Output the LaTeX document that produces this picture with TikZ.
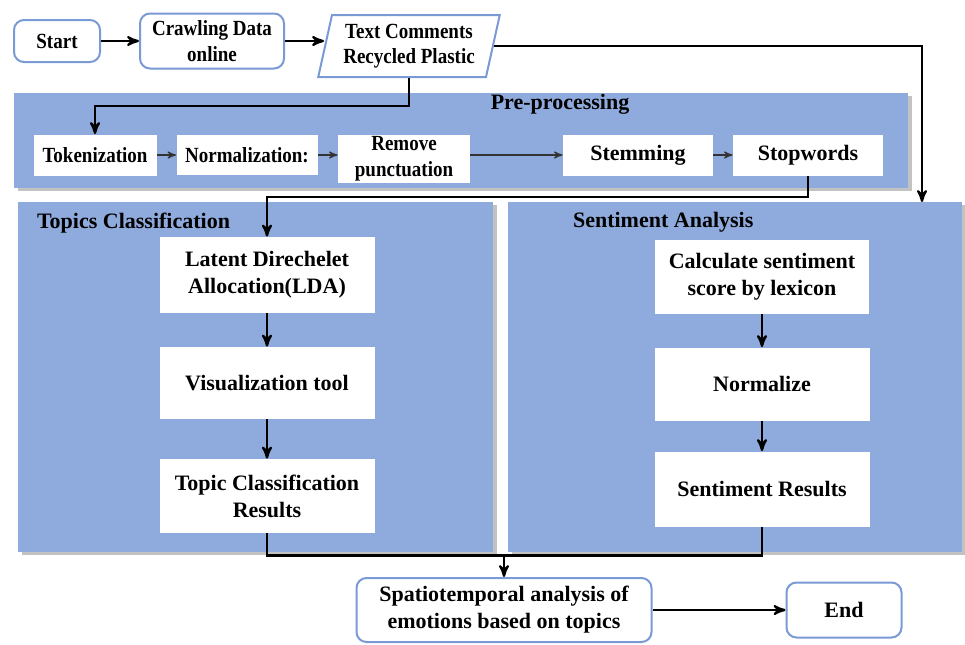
\documentclass[tikz,border=0pt]{standalone}
\usepackage{fontspec}
\setmainfont{Liberation Serif}
\newfontfamily\narrowserif[FakeStretch=0.88]{Liberation Serif}
\usetikzlibrary{arrows,positioning,shapes.geometric,shadows}
\definecolor{panelblue}{RGB}{143,170,220}
\definecolor{edgeblue}{RGB}{122,154,214}
\tikzset{
>=stealth',
  boxfont/.style={font=\bfseries\fontsize{11}{13.5}\selectfont},
  smallfont/.style={font=\narrowserif\bfseries\fontsize{10.8}{12.8}\selectfont},
  endbox/.style={
    rectangle,
    rounded corners=5pt,
    fill=white,
    draw=edgeblue, line width=1pt,
    align=center, inner sep=1pt,
    boxfont},
  iobox/.style={
    trapezium,
    trapezium left angle=76,
    trapezium right angle=104,
    trapezium stretches=true,
    fill=white,
    draw=edgeblue, line width=1pt,
    align=center, inner sep=1pt,
    smallfont},
  panel/.style={
    rectangle, inner sep=0pt,
    fill=panelblue,
    drop shadow={shadow xshift=2pt, shadow yshift=-1.5pt, fill=black!40, opacity=.6}},
  stepbox/.style={
    rectangle,
    fill=white,
    align=center, inner sep=1pt,
    boxfont},
  paneltitle/.style={boxfont},
  line/.style={draw, line width=1.1pt, ->},
  link/.style={draw, line width=1.1pt},
  thinline/.style={draw, line width=0.6pt, ->, black!80},
}

\begin{document}
\begin{tikzpicture}[x=0.5pt,y=-0.5pt]

    \useasboundingbox (0,0) rectangle (965,644);

    % background panels
    \node[panel, minimum width=447pt, minimum height=47.5pt] (pre) at (461,140) {};
    \node[panel, minimum width=237.5pt, minimum height=175pt] (topics) at (255.5,377) {};
    \node[panel, minimum width=227pt, minimum height=175pt] (senti) at (735,377) {};

    \node[paneltitle] (pretitle) at (560,104) {Pre-processing};
    \node[paneltitle, anchor=west] (topictitle) at (30,223) {Topics Classification};
    \node[paneltitle, anchor=west] (sentititle) at (566,222) {Sentiment Analysis};

    % top row
    \node[endbox, smallfont, minimum width=43pt, minimum height=21pt] (start) at (57,41) {Start};
    \node[endbox, smallfont, minimum width=72pt, minimum height=27.5pt] (crawl) at (212,41) {Crawling Data\\online};
    \node[iobox, minimum width=91pt, minimum height=31pt] (text) at (409,46) {Text Comments\\Recycled Plastic};

    % pre-processing steps
    \node[stepbox, smallfont, minimum width=61.5pt, minimum height=20.5pt] (token) at (95,155) {Tokenization};
    \node[stepbox, smallfont, minimum width=70.5pt, minimum height=20pt] (norm) at (247,155) {Normalization:};
    \node[stepbox, smallfont, minimum width=66pt, minimum height=23.5pt] (punct) at (404,159) {Remove\\punctuation};
    \node[stepbox, minimum width=75pt, minimum height=20.5pt] (stem) at (638,155) {Stemming};
    \node[stepbox, minimum width=75pt, minimum height=20.5pt] (stop) at (808,155) {Stopwords};

    % topics classification
    \node[stepbox, minimum width=107.5pt, minimum height=38pt] (lda) at (267,275) {Latent Direchelet\\Allocation(LDA)};
    \node[stepbox, minimum width=107.5pt, minimum height=36pt] (vis) at (267,383) {Visualization tool};
    \node[stepbox, minimum width=107.5pt, minimum height=37pt] (topres) at (267,496) {Topic Classification\\Results};

    % sentiment analysis
    \node[stepbox, minimum width=107pt, minimum height=37pt] (calc) at (762,277) {Calculate sentiment\\score by lexicon};
    \node[stepbox, minimum width=107.5pt, minimum height=36.5pt] (normal) at (762,384) {Normalize};
    \node[stepbox, minimum width=107.5pt, minimum height=37.5pt] (senres) at (762,489) {Sentiment Results};

    % bottom row
    \node[endbox, minimum width=147.5pt, minimum height=32pt] (spatio) at (504,610) {Spatiotemporal analysis of\\emotions based on topics};
    \node[endbox, minimum width=57.5pt, minimum height=27.5pt] (end) at (844,610) {End};

    \coordinate (sentin) at (922,202);

    % connectors
    \path[line] (start) -- (crawl);
    \path[line] (crawl.east) -- (crawl.east -| text.west);
    \path[line] (text.east) -| (sentin);
    \path[line] (text.south) -- ++(0,28) -| (token.north);

    \path[thinline] (token) -- (norm);
    \path[thinline] (norm) -- (norm -| punct.west);
    \path[thinline] (punct.east |- stem) -- (stem);
    \path[thinline] (stem) -- (stop);

    \path[line] (stop.south) -- ++(0,21) -| (lda.north);
    \path[line] (lda) -- (vis);
    \path[line] (vis) -- (topres);
    \path[line] (calc) -- (normal);
    \path[line] (normal) -- (senres);

    \path (topres.south) ++(0,22) coordinate (joint);
    \path[link] (topres.south) -- (joint) -| (senres.south);
    \path[line] (joint -| spatio.north) -- (spatio.north);
    \path[line] (spatio) -- (end);
  \end{tikzpicture}
\end{document}
